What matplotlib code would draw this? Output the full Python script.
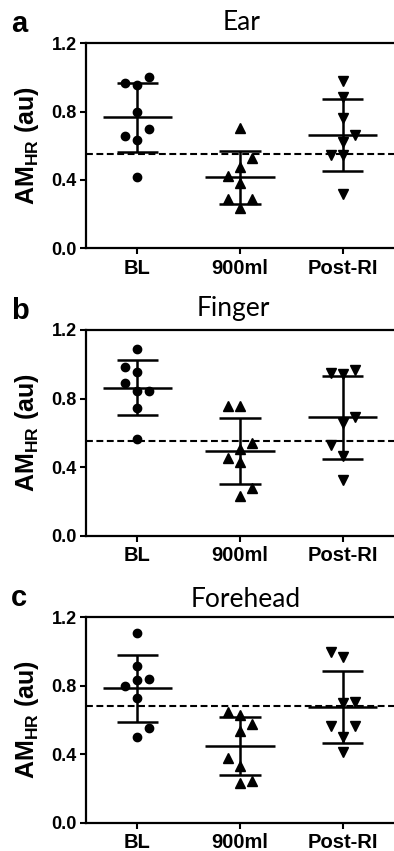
import numpy as np
import matplotlib
matplotlib.use("Agg")
import matplotlib.pyplot as plt

plt.rcParams['font.family'] = ['Liberation Sans', 'DejaVu Sans']
plt.rcParams['mathtext.fontset'] = 'custom'
plt.rcParams['mathtext.rm'] = 'Liberation Sans'
plt.rcParams['mathtext.bf'] = 'Liberation Sans:bold'

# data (AM_HR, au), one list per site and condition
groups = ['BL', '900ml', 'Post-RI']
sites = ['Ear', 'Finger', 'Forehead']
letters = ['a', 'b', 'c']

ear_bl = [0.956, 0.970, 1.001, 0.796, 0.636, 0.658, 0.700, 0.419]
ear_900 = [0.706, 0.478, 0.380, 0.234, 0.425, 0.527, 0.289, 0.289]
ear_post = [0.980, 0.888, 0.761, 0.624, 0.546, 0.546, 0.663, 0.316]

finger_bl = [1.089, 0.957, 0.982, 0.844, 0.844, 0.889, 0.747, 0.564]
finger_900 = [0.757, 0.757, 0.504, 0.432, 0.543, 0.455, 0.233, 0.280]
finger_post = [0.941, 0.947, 0.967, 0.655, 0.465, 0.527, 0.694, 0.325]

forehead_bl = [1.110, 0.913, 0.836, 0.730, 0.499, 0.800, 0.555, 0.841]
forehead_900 = [0.629, 0.538, 0.331, 0.230, 0.649, 0.575, 0.380, 0.244]
forehead_post = [0.966, 0.697, 0.503, 0.411, 0.995, 0.707, 0.565, 0.565]

# dashed reference level per site
ref_level = [0.55, 0.55, 0.68]

all_data = [
    [ear_bl, ear_900, ear_post],
    [finger_bl, finger_900, finger_post],
    [forehead_bl, forehead_900, forehead_post],
]


def swarm_slots(values, gap):
    # greedy column placement: centre first, then the less crowded side
    placed = []
    slots = []
    for v in values:
        def free(s):
            return all(abs(v - pv) >= gap for ps, pv in placed if ps == s)
        if free(0):
            s = 0
        else:
            k = 1
            while True:
                cands = [c for c in (-k, k) if free(c)]
                if cands:
                    counts = {c: sum(1 for ps, _ in placed if ps == c) for c in cands}
                    s = min(cands, key=lambda c: (counts[c], c))
                    break
                k += 1
        placed.append((s, v))
        slots.append(s)
    return np.array(slots)


W, H = 394, 851
fig = plt.figure(figsize=(W / 100, H / 100), dpi=100)

# pixel layout of each panel: (top, bottom) of the axes
panel_px = [(43.3, 248.3), (330.0, 535.7), (617.3, 822.7)]
left_px = 86
title_cx = [242, 233, 246]
title_gap = [13, 14, 10.5]
markers = ['o', '^', 'v']
msizes = [6.0, 6.6, 6.6]
slot_w = 0.118

for i, (top, bot) in enumerate(panel_px):
    ax = fig.add_axes([left_px / W, 1 - bot / H, 1 - left_px / W, (bot - top) / H])
    for j, vals in enumerate(all_data[i]):
        vals = np.array(vals)
        xs = j + swarm_slots(vals, 0.07) * slot_w
        ax.plot(xs, vals, linestyle='none', marker=markers[j], ms=msizes[j],
                color='black', zorder=3)
        m = vals.mean()
        sd = vals.std(ddof=1)
        ax.hlines(m, j - 0.337, j + 0.337, color='black', lw=1.8, zorder=2)
        ax.hlines([m - sd, m + sd], j - 0.2, j + 0.2, color='black', lw=1.8, zorder=2)
        ax.vlines(j, m - sd, m + sd, color='black', lw=1.8, zorder=2)
    ax.axhline(ref_level[i], color='black', lw=1.5, dashes=(3.3, 1.7), zorder=4)

    ax.set_xlim(-0.5, 2.5)
    ax.set_ylim(0, 1.2)
    ax.set_yticks([0.0, 0.4, 0.8, 1.2])
    ax.set_yticklabels(['0.0', '0.4', '0.8', '1.2'], fontsize=13, fontweight='bold')
    ax.set_xticks(range(len(groups)))
    ax.set_xticklabels(groups, fontsize=14.5, fontweight='bold')
    ax.tick_params(axis='both', width=1.5, length=4.5, pad=2)
    ax.tick_params(axis='x', pad=3)
    ax.spines['right'].set_visible(False)
    for sp in ['left', 'bottom', 'top']:
        ax.spines[sp].set_linewidth(1.6)

    fig.text(title_cx[i] / W, 1 - (top - title_gap[i]) / H, sites[i],
             ha='center', va='baseline', fontsize=19, family=['Lato', 'DejaVu Sans'])
    fig.text(11 / W, 1 - (top - 11) / H, letters[i], fontsize=21,
             fontweight='bold', ha='left', va='baseline')
    fig.text(27 / W, 1 - (top + bot) / 2 / H, r'AM$_{\mathbf{HR}}$ (au)',
             rotation=90, ha='center', va='center', fontsize=18, fontweight='bold')

fig.savefig('out.png', dpi=100)
